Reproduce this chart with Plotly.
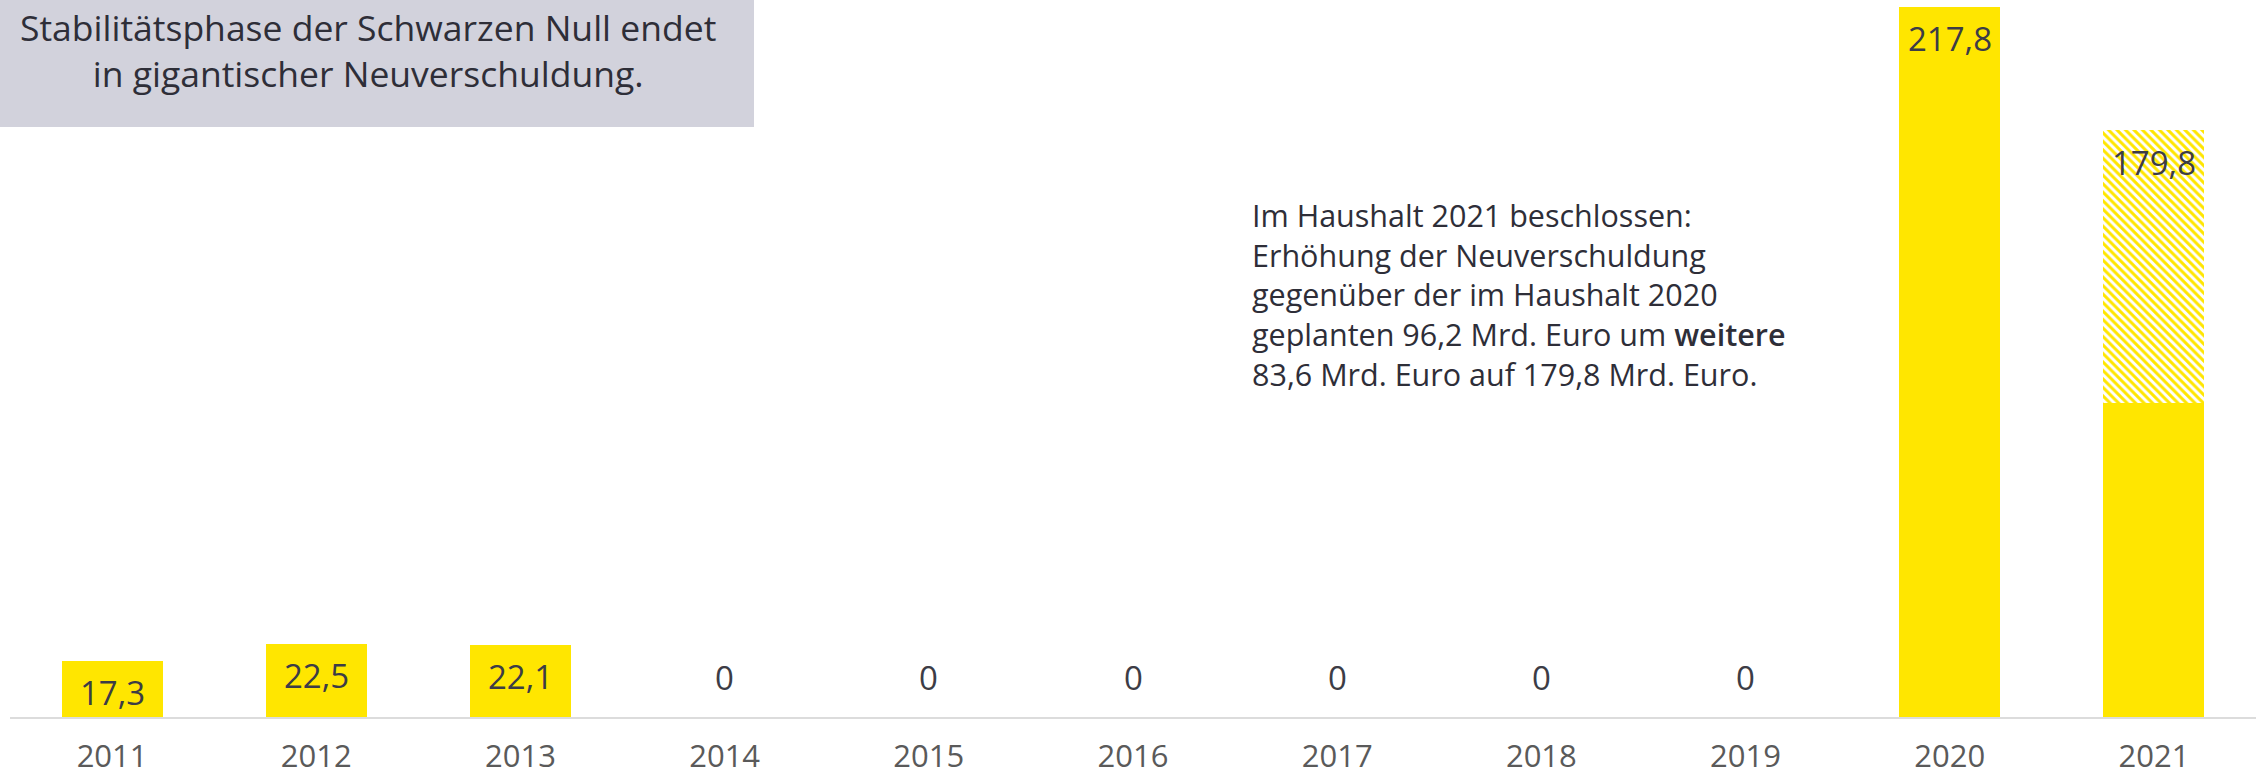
import plotly.graph_objects as go

years = ["2011", "2012", "2013", "2014", "2015", "2016", "2017", "2018", "2019", "2020", "2021"]
solid_values = [17.3, 22.5, 22.1, 0, 0, 0, 0, 0, 0, 217.8, 96.2]
extra_values = [0, 0, 0, 0, 0, 0, 0, 0, 0, 0, 83.6]
label_texts = ["17,3", "22,5", "22,1", "0", "0", "0", "0", "0", "0", "217,8", "179,8"]

title_text = "Stabilitätsphase der Schwarzen Null endet<br>in gigantischer Neuverschuldung."
note_text = ("Im Haushalt 2021 beschlossen:<br>Erhöhung der Neuverschuldung<br>"
             "gegenüber der im Haushalt 2020<br>geplanten 96,2 Mrd. Euro um "
             "<span style='font-weight:600'>weitere</span><br>"
             "83,6 Mrd. Euro auf 179,8 Mrd. Euro.")

YELLOW = "#FFE600"
TXT = "#2E2E38"
FONT = "Open Sans"

W, H = 2260, 775
ML, MR, MT, MB = 10, 4, 0, 58
ymax = 219.8

fig = go.Figure()
fig.add_trace(go.Bar(x=years, y=solid_values, marker=dict(color=YELLOW, line=dict(width=0)),
                     hoverinfo="skip", showlegend=False))
fig.add_trace(go.Bar(x=years, y=extra_values,
                     marker=dict(color="white", line=dict(width=0),
                                 pattern=dict(shape="\\", fgcolor=YELLOW, bgcolor="white",
                                              size=6, solidity=0.5, fillmode="replace")),
                     hoverinfo="skip", showlegend=False))

totals = [a + b for a, b in zip(solid_values, extra_values)]
for i, (tot, lab) in enumerate(zip(totals, label_texts)):
    if tot > 0:
        fig.add_annotation(x=i, y=tot, text=lab, showarrow=False, yanchor="middle", yshift=-32,
                           font=dict(family=FONT, size=33, color="#3C3C46"))
    else:
        fig.add_annotation(x=i, y=0, text=lab, showarrow=False, yanchor="middle", yshift=40,
                           font=dict(family=FONT, size=33, color="#3C3C46"))

pw = W - ML - MR
ph = H - MT - MB
fig.add_shape(type="rect", xref="paper", yref="paper",
              x0=-ML / pw, x1=(754 - ML) / pw, y0=1 - 127 / ph, y1=1 + MT / ph,
              fillcolor="#D2D2DC", line=dict(width=0), layer="below")
fig.add_annotation(xref="paper", yref="paper", x=(368 - ML) / pw, y=1 - 50 / ph,
                   text=title_text, showarrow=False, xanchor="center", yanchor="middle",
                   align="center", font=dict(family=FONT, size=35.5, color=TXT))
fig.add_annotation(xref="paper", yref="paper", x=(1250 - ML) / pw, y=1 - 294 / ph,
                   text=note_text, showarrow=False, xanchor="left", yanchor="middle",
                   align="left", font=dict(family=FONT, size=30.5, color=TXT))

fig.update_layout(
    width=W, height=H, barmode="stack", bargap=0.505,
    margin=dict(l=ML, r=MR, t=MT, b=MB, pad=0, autoexpand=False),
    plot_bgcolor="white", paper_bgcolor="white",
    font=dict(family=FONT, color=TXT),
    xaxis=dict(type="category", range=[-0.5, 10.5], autorange=False, automargin=False,
               showline=True, linecolor="#DCDCDC", linewidth=2,
               showgrid=False, zeroline=False, ticks="outside", ticklen=11, tickcolor="rgba(0,0,0,0)",
               tickfont=dict(family=FONT, size=31, color="#5A5A5A")),
    yaxis=dict(visible=False, range=[0, ymax], autorange=False, automargin=False,
               showgrid=False, zeroline=False),
)

fig.write_html("out.html", config={"displayModeBar": False, "staticPlot": True},
               post_script=("document.documentElement.style.margin='0';"
                            "document.body.style.margin='0';"
                            "document.body.style.overflow='hidden';"
                            "document.documentElement.style.overflow='hidden';"))
